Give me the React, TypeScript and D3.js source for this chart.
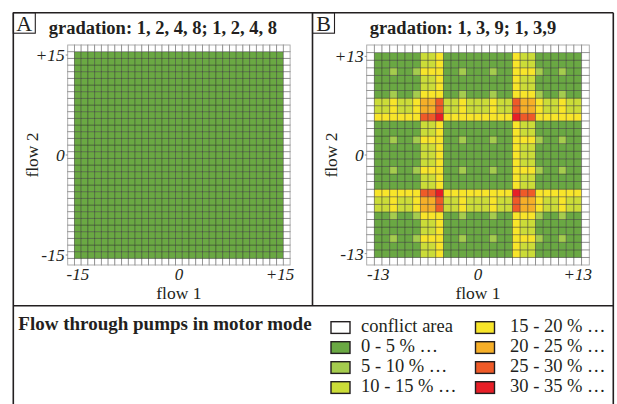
import React from 'react';
import * as d3 from 'd3';

// class index per cell: 0 conflict, 1: 0-5 %, 2: 5-10 %, 3: 10-15 %, 4: 15-20 %, 5: 20-25 %, 6: 25-30 %, 7: 30-35 %
const legendLabels = [
    'conflict area',
    '0 - 5 % \u2026',
    '5 - 10 % \u2026',
    '10 - 15 % \u2026',
    '15 - 20 % \u2026',
    '20 - 25 % \u2026',
    '25 - 30 % \u2026',
    '30 - 35 % \u2026',
];
const classColors = ['#ffffff', '#6aa843', '#a5cc4e', '#cbdc38', '#f8e52a', '#f6af28', '#ef5a28', '#e71f27'];

// panel A, gradation 1,2,4,8 : flow 1 from -15 (left) to +15, flow 2 from +15 (top) to -15
const rowsA = [
    '11111 11111 11111 11111 11111 11111 1',
    '11111 11111 11111 11111 11111 11111 1',
    '11111 11111 11111 11111 11111 11111 1',
    '11111 11111 11111 11111 11111 11111 1',
    '11111 11111 11111 11111 11111 11111 1',
    '11111 11111 11111 11111 11111 11111 1',
    '11111 11111 11111 11111 11111 11111 1',
    '11111 11111 11111 11111 11111 11111 1',
    '11111 11111 11111 11111 11111 11111 1',
    '11111 11111 11111 11111 11111 11111 1',
    '11111 11111 11111 11111 11111 11111 1',
    '11111 11111 11111 11111 11111 11111 1',
    '11111 11111 11111 11111 11111 11111 1',
    '11111 11111 11111 11111 11111 11111 1',
    '11111 11111 11111 11111 11111 11111 1',
    '11111 11111 11111 11111 11111 11111 1',
    '11111 11111 11111 11111 11111 11111 1',
    '11111 11111 11111 11111 11111 11111 1',
    '11111 11111 11111 11111 11111 11111 1',
    '11111 11111 11111 11111 11111 11111 1',
    '11111 11111 11111 11111 11111 11111 1',
    '11111 11111 11111 11111 11111 11111 1',
    '11111 11111 11111 11111 11111 11111 1',
    '11111 11111 11111 11111 11111 11111 1',
    '11111 11111 11111 11111 11111 11111 1',
    '11111 11111 11111 11111 11111 11111 1',
    '11111 11111 11111 11111 11111 11111 1',
    '11111 11111 11111 11111 11111 11111 1',
    '11111 11111 11111 11111 11111 11111 1',
    '11111 11111 11111 11111 11111 11111 1',
    '11111 11111 11111 11111 11111 11111 1',
];

// panel B, gradation 1,3,9 : flow 1 from -13 to +13, flow 2 from +13 (top) to -13
const rowsB = [
    '111111 334 111111111 433 111111',
    '111111 334 111111111 433 111111',
    '112112 444 112111211 444 211211',
    '111111 334 111111111 433 111111',
    '111111 334 111111111 433 111111',
    '112112 444 112111211 444 211211',
    '334334 556 334333433 655 433433',
    '334334 556 334333433 655 433433',
    '444444 667 444444444 766 444444',
    '111111 334 111111111 433 111111',
    '111111 334 111111111 433 111111',
    '112112 444 112111211 444 211211',
    '111111 334 111111111 433 111111',
    '111111 334 111111111 433 111111',
    '111111 334 111111111 433 111111',
    '112112 444 112111211 444 211211',
    '111111 334 111111111 433 111111',
    '111111 334 111111111 433 111111',
    '444444 667 444444444 766 444444',
    '334334 556 334333433 655 433433',
    '334334 556 334333433 655 433433',
    '112112 444 112111211 444 211211',
    '111111 334 111111111 433 111111',
    '111111 334 111111111 433 111111',
    '112112 444 112111211 444 211211',
    '111111 334 111111111 433 111111',
    '111111 334 111111111 433 111111',
];

const ticksA = [-15, 0, 15];
const tickLabelsA = ['-15', '0', '+15'];
const ticksB = [-13, 0, 13];
const tickLabelsB = ['-13', '0', '+13'];

const FONT = '"Liberation Serif", "Times New Roman", Times, serif';
const INK = '#231f20';

interface PanelProps {
    letter: string;
    title: string;
    frameX: number;
    frameW: number;
    gridX: [number, number];
    gridY: [number, number];
    rows: string[];
    ticks: number[];
    tickLabels: string[];
}

const Panel: React.FC<PanelProps> = ({ letter, title, frameX, frameW, gridX, gridY, rows, ticks, tickLabels }) => {
    const cells = rows.map((r) => r.replace(/ /g, ''));
    const half = (cells.length - 1) / 2;
    const ext = half + 1; // one ring of conflict cells around the data
    const flows = d3.range(-ext, ext + 1);

    const x = d3.scaleBand<number>().domain(flows).range(gridX);
    const y = d3.scaleBand<number>().domain(flows.slice().reverse()).range(gridY);

    const valueAt = (f1: number, f2: number) => {
        const row = cells[half - f2];
        if (!row) return 0;
        const ch = row[f1 + half];
        return ch === undefined ? 0 : +ch;
    };

    const cx = (f: number) => (x(f) ?? 0) + x.bandwidth() / 2;
    const cy = (f: number) => (y(f) ?? 0) + y.bandwidth() / 2;

    return (
        <g>
            <rect x={frameX} y={12.7} width={22} height={20.5} fill="none" stroke={INK} strokeWidth={1.1} />
            <text x={frameX + 11} y={30.5} textAnchor="middle" fontFamily={FONT} fontSize={22} fill={INK}>
                {letter}
            </text>
            <text x={frameX + frameW / 2} y={34} textAnchor="middle" fontFamily={FONT} fontSize={18.5} fontWeight="bold" fill={INK}>
                {title}
            </text>

            {flows.map((f2) =>
                flows.map((f1) => (
                    <rect
                        key={`${f1}_${f2}`}
                        x={x(f1)}
                        y={y(f2)}
                        width={x.bandwidth()}
                        height={y.bandwidth()}
                        fill={classColors[valueAt(f1, f2)]}
                        stroke="#2a2a2a"
                        strokeOpacity={0.42}
                        strokeWidth={0.9}
                    />
                ))
            )}

            {ticks.map((t, i) => (
                <g key={`t${t}`}>
                    <line x1={gridX[0] - 2} x2={gridX[0]} y1={cy(t)} y2={cy(t)} stroke="#777" strokeWidth={0.8} />
                    <text x={gridX[0] - 3} y={cy(t) + 6} textAnchor="end" fontFamily={FONT} fontStyle="italic" fontSize={17.5} fill={INK}>
                        {tickLabels[i]}
                    </text>
                    <text x={cx(t)} y={280} textAnchor="middle" fontFamily={FONT} fontStyle="italic" fontSize={17} fill={INK}>
                        {tickLabels[i]}
                    </text>
                </g>
            ))}

            <text x={(gridX[0] + gridX[1]) / 2} y={298.5} textAnchor="middle" fontFamily={FONT} fontSize={17.5} fill={INK}>
                flow 1
            </text>
            <text
                transform={`translate(${gridX[0] - 29.5},${(gridY[0] + gridY[1]) / 2}) rotate(-90)`}
                textAnchor="middle"
                fontFamily={FONT}
                fontSize={17.5}
                fill={INK}
            >
                flow 2
            </text>
        </g>
    );
};

const App: React.FC = () => {
    const left = 13.3;
    const right = 613.3;
    const top = 12.7;
    const mid = 312.5;
    const split = 305.7;

    return (
        <svg width={617} height={404} style={{ position: 'absolute', left: 0, top: 0, background: '#fff' }}>
            <rect x={0} y={0} width={617} height={404} fill="#fff" />

            <Panel
                letter="A"
                title="gradation: 1, 2, 4, 8; 1, 2, 4, 8"
                frameX={left}
                frameW={mid - left}
                gridX={[67.7, 290.1]}
                gridY={[45, 265]}
                rows={rowsA}
                ticks={ticksA}
                tickLabels={tickLabelsA}
            />
            <Panel
                letter="B"
                title="gradation: 1, 3, 9; 1, 3,9"
                frameX={mid}
                frameW={right - mid}
                gridX={[366.7, 589.3]}
                gridY={[45, 265]}
                rows={rowsB}
                ticks={ticksB}
                tickLabels={tickLabelsB}
            />

            {/* frame */}
            <g stroke={INK} strokeWidth={1.6} fill="none">
                <line x1={left} x2={right} y1={top} y2={top} />
                <line x1={left} x2={left} y1={top} y2={404} />
                <line x1={right} x2={right} y1={top} y2={404} />
                <line x1={mid} x2={mid} y1={top} y2={split} />
                <line x1={left} x2={right} y1={split} y2={split} />
            </g>

            {/* legend */}
            <text x={18.3} y={330} fontFamily={FONT} fontSize={19} fontWeight="bold" fill={INK}>
                Flow through pumps in motor mode
            </text>
            {legendLabels.map((label, i) => {
                const col = Math.floor(i / 4);
                const row = i % 4;
                const bx = col === 0 ? 331 : 475.5;
                const tx = col === 0 ? 361 : 510;
                const by = 321.7 + row * 20;
                return (
                    <g key={label}>
                        <rect x={bx} y={by} width={19} height={11.7} fill={classColors[i]} stroke={INK} strokeWidth={1.4} />
                        <text x={tx} y={by + 10.3} fontFamily={FONT} fontSize={18.5} fill={INK}>
                            {label}
                        </text>
                    </g>
                );
            })}
        </svg>
    );
};

export default App;
